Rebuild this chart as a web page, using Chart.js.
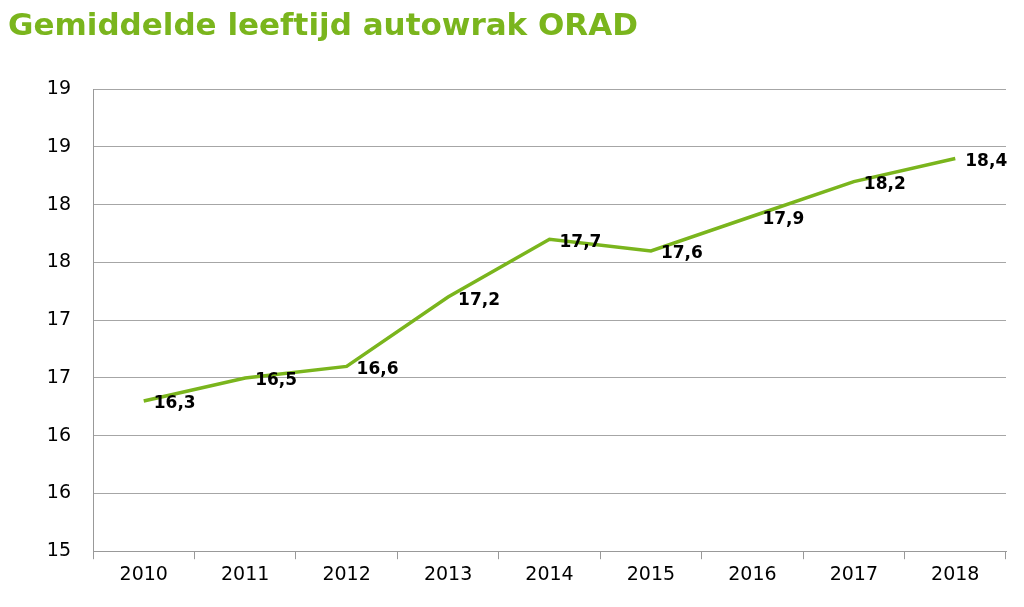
<!DOCTYPE html>
<html>
<head>
<meta charset="utf-8">
<script src="https://cdn.jsdelivr.net/npm/chart.js@4"></script>
<style>
  body { margin: 0; background: #fff; }
  #wrap { position: relative; width: 1024px; height: 607px; }
</style>
</head>
<body>
<div id="wrap"><canvas id="chart"></canvas></div>
<script>
// Data
const years = ['2010', '2011', '2012', '2013', '2014', '2015', '2016', '2017', '2018'];
const ages = [16.3, 16.5, 16.6, 17.2, 17.7, 17.6, 17.9, 18.2, 18.4];
const valueLabels = ['16,3', '16,5', '16,6', '17,2', '17,7', '17,6', '17,9', '18,2', '18,4'];

const green = '#7ab51d';

// Labels next to the points
const pointLabels = {
    id: 'pointLabels',
    afterDatasetsDraw(chart) {
        const ctx = chart.ctx;
        const meta = chart.getDatasetMeta(0);
        ctx.save();
        ctx.font = 'bold 17px "DejaVu Sans", sans-serif';
        ctx.fillStyle = '#000';
        ctx.textBaseline = 'middle';
        meta.data.forEach((pt, i) => {
            ctx.fillText(valueLabels[i], pt.x + 10, pt.y + 3);
        });
        ctx.restore();
    }
};

new Chart(document.getElementById('chart'), {
    type: 'line',
    data: {
        labels: years,
        datasets: [{
            data: ages,
            borderColor: green,
            borderWidth: 3.5,
            pointRadius: 0,
            tension: 0
        }]
    },
    options: {
        responsive: true,
        maintainAspectRatio: false,
        animation: false,
        layout: { padding: { left: 8, right: 18, top: 0, bottom: 17 } },
        plugins: {
            legend: { display: false },
            tooltip: { enabled: false },
            title: {
                display: true,
                text: 'Gemiddelde leeftijd autowrak ORAD',
                align: 'start',
                color: green,
                font: { family: '"DejaVu Sans", sans-serif', size: 31, weight: 'bold' },
                padding: { top: 8, bottom: 44 }
            }
        },
        scales: {
            x: {
                offset: true,
                grid: { display: true, drawOnChartArea: false, offset: true, color: '#999', tickLength: 8 },
                border: { color: '#999' },
                ticks: { color: '#000', font: { family: '"DejaVu Sans", sans-serif', size: 19 }, padding: 4 }
            },
            y: {
                min: 15,
                max: 19,
                afterFit: (scale) => { scale.width = 85; },
                ticks: {
                    stepSize: 0.5,
                    color: '#000',
                    font: { family: '"DejaVu Sans", sans-serif', size: 19 },
                    padding: 22,
                    callback: (value) => Math.round(value)
                },
                grid: { color: '#a6a6a6', tickLength: 0 },
                border: { color: '#999' }
            }
        }
    },
    plugins: [pointLabels]
});
</script>
</body>
</html>
